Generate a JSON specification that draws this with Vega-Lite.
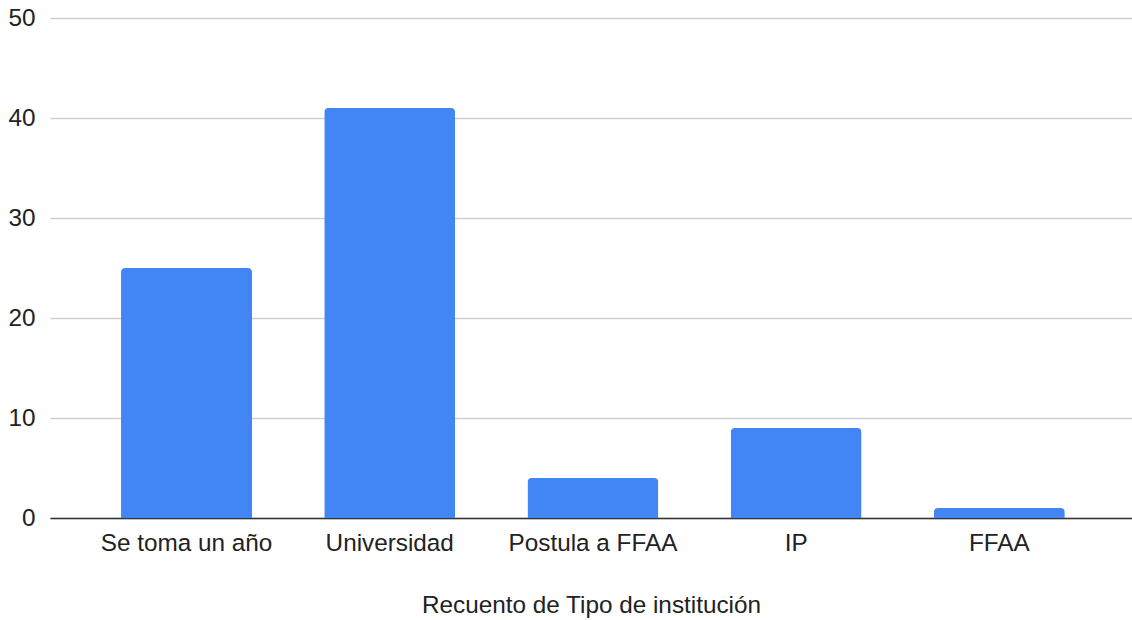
{
  "$schema": "https://vega.github.io/schema/vega-lite/v6.json",
  "width": 1082,
  "height": 500,
  "autosize": {"type": "none"},
  "padding": {"left": 50, "top": 18, "right": 0, "bottom": 102},
  "background": "white",
  "config": {"view": {"stroke": null}, "font": "Liberation Sans"},
  "data": {
    "values": [
      {"tipo": "Se toma un año", "n": 25},
      {"tipo": "Universidad", "n": 41},
      {"tipo": "Postula a FFAA", "n": 4},
      {"tipo": "IP", "n": 9},
      {"tipo": "FFAA", "n": 1}
    ]
  },
  "mark": {"type": "bar", "color": "#4285F4", "cornerRadiusTopLeft": 4, "cornerRadiusTopRight": 4},
  "encoding": {
    "x": {
      "field": "tipo",
      "type": "nominal",
      "sort": null,
      "scale": {"paddingInner": 0.3555, "paddingOuter": 0.34, "align": 0.514},
      "axis": {
        "title": "Recuento de Tipo de institución",
        "titleFont": "Liberation Sans",
        "titleFontSize": 24.3,
        "titleFontWeight": "normal",
        "titleColor": "#222222",
        "titlePadding": 38,
        "labelFont": "Liberation Sans",
        "labelFontSize": 24.3,
        "labelColor": "#222222",
        "labelAngle": 0,
        "labelPadding": 13,
        "ticks": false,
        "domainColor": "#333333",
        "domainWidth": 1.5
      }
    },
    "y": {
      "field": "n",
      "type": "quantitative",
      "scale": {"domain": [0, 50]},
      "axis": {
        "title": null,
        "values": [0, 10, 20, 30, 40, 50],
        "labelFont": "Liberation Sans",
        "labelFontSize": 24.3,
        "labelColor": "#222222",
        "labelPadding": 15,
        "ticks": false,
        "domain": false,
        "gridColor": "#d0d0d0",
        "gridWidth": 1.5
      }
    }
  }
}
